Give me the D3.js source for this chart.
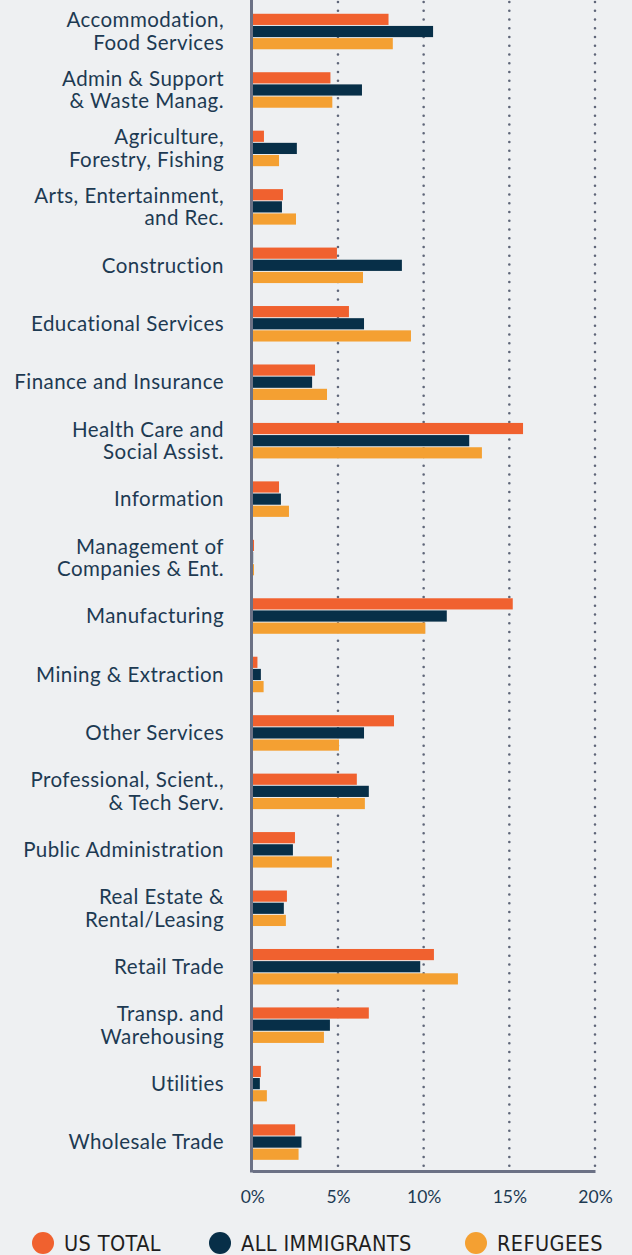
<!DOCTYPE html>
<html>
<head>
<meta charset="utf-8">
<script src="https://cdn.jsdelivr.net/npm/d3@7"></script>
<style>
  html, body { margin: 0; padding: 0; background: #eef0f2; }
  svg { display: block; }
</style>
</head>
<body>
<div id="chart"></div>
<script>
// industries, top to bottom (lines split with "|")
var categories = [
  "Accommodation,|Food Services", "Admin & Support|& Waste Manag.", "Agriculture,|Forestry, Fishing",
  "Arts, Entertainment,|and Rec.", "Construction", "Educational Services", "Finance and Insurance",
  "Health Care and|Social Assist.", "Information", "Management of|Companies & Ent.", "Manufacturing",
  "Mining & Extraction", "Other Services", "Professional, Scient.,|& Tech Serv.", "Public Administration",
  "Real Estate &|Rental/Leasing", "Retail Trade", "Transp. and|Warehousing", "Utilities", "Wholesale Trade"
];
var seriesNames = ["US TOTAL", "ALL IMMIGRANTS", "REFUGEES"];
var seriesColors = ["#f0612f", "#072f48", "#f4a032"];

// share of workers, percent
var usTotal =       [7.95, 4.56, 0.68, 1.79, 4.94, 5.64, 3.66, 15.8, 1.56, 0.10, 15.2, 0.30, 8.27, 6.10, 2.49, 2.02, 10.6, 6.80, 0.50, 2.50];
var allImmigrants = [10.55, 6.40, 2.60, 1.73, 8.73, 6.52, 3.49, 12.66, 1.67, 0.05, 11.35, 0.50, 6.52, 6.80, 2.37, 1.84, 9.80, 4.53, 0.44, 2.87];
var refugees =      [8.20, 4.67, 1.56, 2.55, 6.46, 9.26, 4.36, 13.40, 2.14, 0.10, 10.10, 0.66, 5.06, 6.57, 4.65, 1.96, 12.0, 4.18, 0.85, 2.70];
var ticks = [0, 5, 10, 15, 20];

var W = 632, H = 1255;
var svg = d3.select("#chart").append("svg").attr("width", W).attr("height", H);

var x = d3.scaleLinear().domain([0, 20]).range([252.3, 595]);
var y = d3.scaleBand().domain(categories).range([2.3, 1171.3]);
var ySub = d3.scaleBand().domain(seriesNames).range([0, 35.5]).paddingInner(0.08);
var off = (y.bandwidth() - 35.5) / 2;

var rows = categories.map(function (c, i) {
  return { cat: c, vals: [usTotal[i], allImmigrants[i], refugees[i]] };
});

// dotted grid
svg.append("g").selectAll("line").data(ticks.slice(1)).enter().append("line")
  .attr("x1", function (d) { return x(d); }).attr("x2", function (d) { return x(d); })
  .attr("y1", 2).attr("y2", 1168)
  .attr("stroke", "#5f6679").attr("stroke-width", 2.6)
  .attr("stroke-linecap", "round").attr("stroke-dasharray", "0 8.75");

// bars
var g = svg.append("g").selectAll("g").data(rows).enter().append("g")
  .attr("transform", function (d) { return "translate(0," + (y(d.cat) + off) + ")"; });
g.selectAll("rect").data(function (d) { return d.vals; }).enter().append("rect")
  .attr("x", x(0))
  .attr("y", function (d, i) { return ySub(seriesNames[i]); })
  .attr("width", function (d) { return x(d) - x(0); })
  .attr("height", ySub.bandwidth())
  .attr("fill", function (d, i) { return seriesColors[i]; });

// category labels
var lab = svg.append("g").selectAll("text").data(categories).enter().append("text")
  .attr("x", 224).attr("text-anchor", "end")
  .style("font-family", "Lato, 'Open Sans', sans-serif").style("font-size", "20.5px")
  .style("letter-spacing", "0.45px")
  .attr("fill", "#1d3a52");
lab.each(function (c) {
  var lines = c.split("|");
  var cy = y(c) + y.bandwidth() / 2;
  var t = d3.select(this);
  lines.forEach(function (ln, k) {
    t.append("tspan").attr("x", 224)
      .attr("y", cy + (k - (lines.length - 1) / 2) * 22.5)
      .attr("dy", "0.35em").text(ln);
  });
});

// axes
var xAxis = svg.append("g").attr("transform", "translate(0,1171)")
  .call(d3.axisBottom(x).tickValues(ticks).tickFormat(function (d) { return d + "%"; }).tickSize(0).tickPadding(20));
xAxis.select(".domain").attr("stroke", "#6b7185").attr("stroke-width", 3);
xAxis.selectAll("text").attr("fill", "#1d3a52")
  .style("font-family", "Lato, 'Open Sans', sans-serif").style("font-size", "17.5px");
svg.append("line").attr("x1", x(0) - 0.8).attr("x2", x(0) - 0.8).attr("y1", 0).attr("y2", 1172.5)
  .attr("stroke", "#6b7185").attr("stroke-width", 3);

// legend
var legX = [43, 220, 476];
var leg = svg.append("g").selectAll("g").data(seriesNames).enter().append("g")
  .attr("transform", function (d, i) { return "translate(" + legX[i] + ",1243)"; });
leg.append("circle").attr("r", 11).attr("fill", function (d, i) { return seriesColors[i]; });
leg.append("text").attr("x", 21).attr("dy", "0.36em").text(function (d) { return d; })
  .attr("fill", "#1e1e1e")
  .style("font-family", "'Liberation Sans Narrow', 'DejaVu Sans Condensed', sans-serif")
  .style("font-size", "21.5px").style("letter-spacing", "0.4px");
</script>
</body>
</html>
